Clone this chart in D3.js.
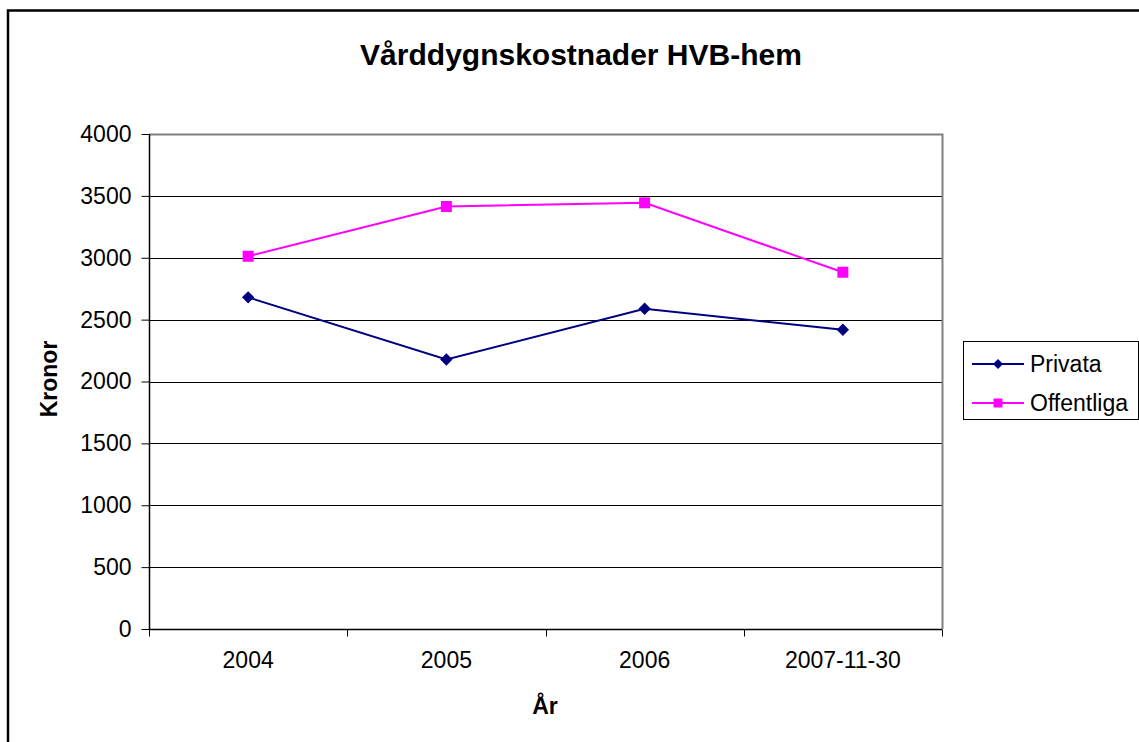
<!DOCTYPE html>
<html>
<head>
<meta charset="utf-8">
<script src="https://cdn.jsdelivr.net/npm/d3@7"></script>
<style>
  html, body { margin: 0; padding: 0; background: #fff; }
  svg { display: block; font-family: "Liberation Sans", Arial, sans-serif; }
</style>
</head>
<body>
<svg id="chart" width="1139" height="742"></svg>
<script>
const categories = ["2004", "2005", "2006", "2007-11-30"];
const privata = [2680, 2178, 2588, 2418];
const offentliga = [3012, 3414, 3444, 2883];
const yTicks = [0, 500, 1000, 1500, 2000, 2500, 3000, 3500, 4000];
const seriesNames = ["Privata", "Offentliga"];
const title = "Vårddygnskostnader HVB-hem";
const xTitle = "År";
const yTitle = "Kronor";

const svg = d3.select("#chart");
const W = 1139, H = 742;
const plot = { left: 149, right: 942, top: 134, bottom: 629 };

// outer chart border
svg.append("rect").attr("x", 8).attr("y", 10.5).attr("width", W + 20).attr("height", H + 20)
  .attr("fill", "#fff").attr("stroke", "#000").attr("stroke-width", 2.5);

const x = d3.scaleBand().domain(categories).range([plot.left, plot.right]).padding(0);
const y = d3.scaleLinear().domain([0, 4000]).range([plot.bottom, plot.top]);

// gridlines
svg.append("g").selectAll("line").data(yTicks.filter(d => d > 0 && d < 4000)).join("line")
  .attr("x1", plot.left).attr("x2", plot.right)
  .attr("y1", d => Math.round(y(d)) + 0.5).attr("y2", d => Math.round(y(d)) + 0.5)
  .attr("stroke", "#000").attr("stroke-width", 1);

// plot border (top/right grey)
svg.append("path")
  .attr("d", `M${plot.left},${plot.top + 0.5}H${plot.right + 0.5}V${plot.bottom}`)
  .attr("fill", "none").attr("stroke", "#808080").attr("stroke-width", 2);

// y axis
const yAxis = d3.axisLeft(y).tickValues(yTicks).tickSize(8).tickPadding(10).tickFormat(d3.format("d"));
const gy = svg.append("g").attr("transform", `translate(${plot.left + 0.5},0)`).call(yAxis);
gy.select(".domain").attr("stroke", "#000").attr("stroke-width", 1.5).attr("d", `M0,${plot.top}V${plot.bottom}`);
gy.selectAll(".tick line").attr("stroke", "#000");
gy.selectAll(".tick text").attr("font-size", 23).attr("fill", "#000")
  .attr("font-family", "'Liberation Sans', Arial, sans-serif");

// x axis
const xAxis = d3.axisBottom(x).tickSize(0).tickPadding(22);
const gx = svg.append("g").attr("transform", `translate(0,${plot.bottom + 0.5})`).call(xAxis);
gx.select(".domain").attr("stroke", "#000").attr("stroke-width", 1.5).attr("d", `M${plot.left},0H${plot.right}`);
gx.selectAll(".tick text").attr("font-size", 23).attr("fill", "#000")
  .attr("font-family", "'Liberation Sans', Arial, sans-serif");
// category boundary ticks
const bounds = categories.map(c => x(c)).concat([x(categories[categories.length - 1]) + x.bandwidth()]);
gx.selectAll("line.bt").data(bounds).join("line").attr("class", "bt")
  .attr("x1", d => Math.round(d) + 0.5).attr("x2", d => Math.round(d) + 0.5)
  .attr("y1", 0).attr("y2", 7).attr("stroke", "#000");

const cx = c => x(c) + x.bandwidth() / 2;
const line = d3.line().x((d, i) => cx(categories[i])).y(d => y(d));

const colors = ["#000080", "#FF00FF"];
const data = [privata, offentliga];

data.forEach((vals, si) => {
  svg.append("path").datum(vals).attr("d", line)
    .attr("fill", "none").attr("stroke", colors[si]).attr("stroke-width", 2);
});

// markers
svg.append("g").selectAll("path").data(privata).join("path")
  .attr("d", d3.symbol(d3.symbolSquare, 76))
  .attr("transform", (d, i) => `translate(${cx(categories[i])},${y(d)}) rotate(45)`)
  .attr("fill", colors[0]);
svg.append("g").selectAll("rect").data(offentliga).join("rect")
  .attr("x", (d, i) => cx(categories[i]) - 5.5).attr("y", d => y(d) - 5.5)
  .attr("width", 11).attr("height", 11).attr("fill", colors[1]);

// title
svg.append("text").attr("x", 581).attr("y", 65).attr("text-anchor", "middle")
  .attr("font-size", 30).attr("font-weight", "bold").text(title);

// axis titles
svg.append("text").attr("x", 545).attr("y", 714).attr("text-anchor", "middle")
  .attr("font-size", 23).attr("font-weight", "bold").text(xTitle);
svg.append("text").attr("transform", "translate(57,379) rotate(-90)").attr("text-anchor", "middle")
  .attr("font-size", 23).attr("font-weight", "bold").text(yTitle);

// legend
const lg = svg.append("g");
lg.append("rect").attr("x", 963.5).attr("y", 341.5).attr("width", 175).attr("height", 78)
  .attr("fill", "#fff").attr("stroke", "#000").attr("stroke-width", 1);
const legY = [364, 403];
seriesNames.forEach((name, i) => {
  lg.append("line").attr("x1", 972).attr("x2", 1024).attr("y1", legY[i]).attr("y2", legY[i])
    .attr("stroke", colors[i]).attr("stroke-width", 2);
  if (i === 0) {
    lg.append("path").attr("d", d3.symbol(d3.symbolSquare, 50))
      .attr("transform", `translate(998,${legY[i]}) rotate(45)`).attr("fill", colors[i]);
  } else {
    lg.append("rect").attr("x", 998 - 4.5).attr("y", legY[i] - 4.5).attr("width", 9).attr("height", 9)
      .attr("fill", colors[i]);
  }
  lg.append("text").attr("x", 1030).attr("y", legY[i] + 8).attr("font-size", 23).attr("fill", "#000").text(name);
});
</script>
</body>
</html>
